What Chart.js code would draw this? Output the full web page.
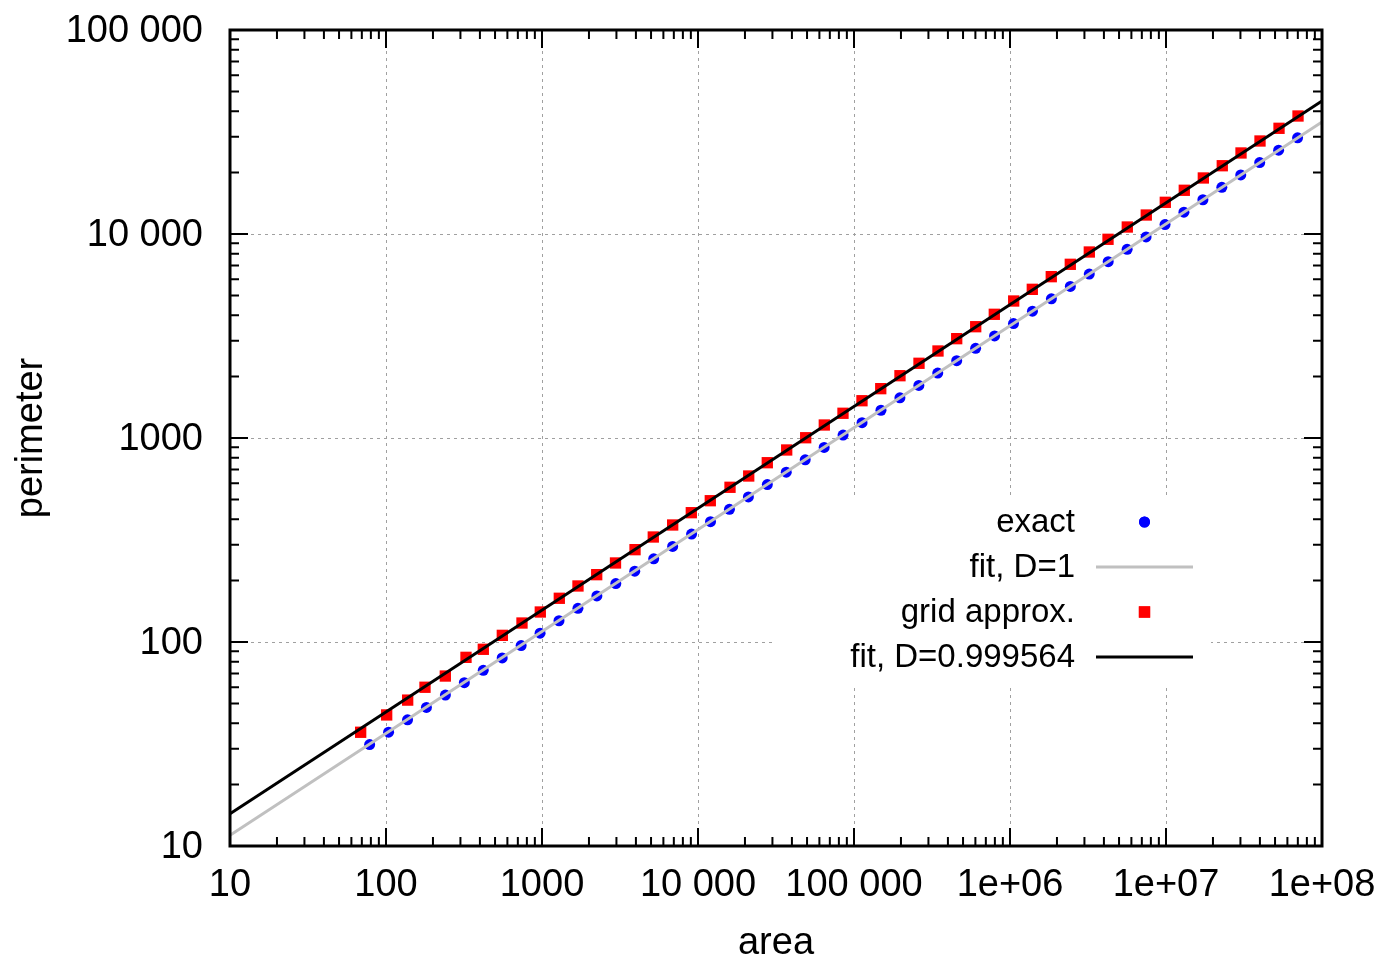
<!DOCTYPE html>
<html>
<head>
<meta charset="utf-8">
<script src="https://cdn.jsdelivr.net/npm/chart.js@4.4.1/dist/chart.umd.min.js"></script>
<style>
  html, body { margin: 0; padding: 0; background: #fff; }
  #wrap { width: 1390px; height: 972px; }
</style>
</head>
<body>
<div id="wrap"><canvas id="chart"></canvas></div>
<script>
// circles: exact area vs perimeter
const blueArea = [78.54, 103.9, 137.4, 181.6, 240.3, 317.8, 420.2, 555.7, 734.9, 971.9,
  1285, 1700, 2248, 2973, 3932, 5200, 6877, 9095, 12030, 15910,
  21040, 27820, 36790, 48660, 64360, 85110, 112600, 148900, 196900, 260400,
  344300, 455400, 602200, 796400, 1053000, 1393000, 1842000, 2436000, 3222000, 4261000,
  5635000, 7453000, 9856000, 13030000, 17240000, 22800000, 30150000, 39870000, 52730000, 69740000];
const bluePerim = [31.42, 36.13, 41.55, 47.78, 54.95, 63.19, 72.66, 83.57, 96.10, 110.5,
  127.1, 146.2, 168.1, 193.3, 222.3, 255.6, 294.0, 338.1, 388.8, 447.1,
  514.2, 591.3, 680.0, 782.0, 899.3, 1034, 1189, 1368, 1573, 1809,
  2080, 2392, 2751, 3164, 3638, 4184, 4811, 5533, 6363, 7317,
  8415, 9677, 11130, 12800, 14720, 16930, 19470, 22390, 25740, 29600];

// grid approximation
const redArea = [68.8, 101.0, 137.7, 177.8, 240.0, 325.7, 420.5, 556.7, 744.3, 975.2,
  1291, 1701, 2242, 2959, 3947, 5169, 6882, 9060, 11990, 16040,
  21140, 27810, 37030, 49010, 64510, 85000, 112500, 148400, 197100, 261000,
  345500, 455300, 602800, 793200, 1056000, 1390000, 1839000, 2435000, 3224000, 4249000,
  5648000, 7475000, 9897000, 13100000, 17350000, 22950000, 30260000, 40050000, 53030000, 70190000];
const redPerim = [36.1, 43.9, 51.9, 60.0, 68.1, 84.1, 92.1, 107.8, 123.9, 140.3,
  163.8, 188.2, 213.8, 244.0, 283.5, 327.1, 374.6, 430.4, 492.7, 573.3,
  651.2, 756.6, 873.5, 1003, 1158, 1322, 1523, 1745, 2020, 2324,
  2670, 3068, 3512, 4040, 4694, 5356, 6177, 7103, 8161, 9419,
  10820, 12390, 14300, 16380, 18820, 21610, 24960, 28570, 32970, 37880];

// fitted lines (ends of the plotted range)
const fitX = [10, 1e8];
const fitD1 = [11.3, 35400];
const fitD0999564 = [14.4, 44900];

const xTickValues = [10, 100, 1000, 1e4, 1e5, 1e6, 1e7, 1e8];
const xTickLabels = ['10', '100', '1000', '10 000', '100 000', '1e+06', '1e+07', '1e+08'];
const yTickValues = [10, 100, 1000, 1e4, 1e5];
const yTickLabels = ['10', '100', '1000', '10 000', '100 000'];

const FONT = "'Liberation Sans', Arial, Helvetica, sans-serif";

const pts = (xs, ys) => xs.map((v, i) => ({ x: v, y: ys[i] }));

// log minor tick positions between majors
function minorVals(majors) {
  const out = [];
  for (let i = 0; i < majors.length - 1; i++)
    for (let k = 2; k <= 9; k++) out.push(majors[i] * k);
  return out;
}

const frame = {
  id: 'frame',
  beforeDatasetsDraw(chart) {
    const { ctx, chartArea: a, scales: { x, y } } = chart;
    ctx.save();
    ctx.strokeStyle = '#a0a0a0';
    ctx.lineWidth = 1;
    ctx.setLineDash([3, 4]);
    xTickValues.forEach(v => {
      const px = Math.round(x.getPixelForValue(v)) + 0.5;
      ctx.beginPath(); ctx.moveTo(px, a.top); ctx.lineTo(px, a.bottom); ctx.stroke();
    });
    yTickValues.forEach(v => {
      const py = Math.round(y.getPixelForValue(v)) + 0.5;
      ctx.beginPath(); ctx.moveTo(a.left, py); ctx.lineTo(a.right, py); ctx.stroke();
    });
    ctx.restore();
  },
  afterDatasetsDraw(chart) {
    const { ctx, chartArea: a, scales: { x, y } } = chart;
    ctx.save();

    // key
    const boxL = a.right - 547, boxR = a.right - 111, boxT = a.top + 469, boxB = a.top + 655;
    ctx.fillStyle = '#fff';
    ctx.fillRect(boxL, boxT, boxR - boxL, boxB - boxT);
    const textR = a.right - 247, sampL = a.right - 226, sampR = a.right - 129;
    const sampC = (sampL + sampR) / 2;
    ctx.font = '33px ' + FONT;
    ctx.textAlign = 'right';
    ctx.textBaseline = 'middle';
    chart.data.datasets.forEach((ds, i) => {
      const yc = boxT + 23 + i * 45;
      ctx.fillStyle = '#000';
      ctx.fillText(ds.label, textR, yc + 1);
      if (ds.showLine) {
        ctx.strokeStyle = ds.borderColor;
        ctx.lineWidth = ds.borderWidth;
        ctx.beginPath(); ctx.moveTo(sampL, yc); ctx.lineTo(sampR, yc); ctx.stroke();
      } else {
        ctx.fillStyle = ds.pointBackgroundColor;
        Chart.helpers.drawPoint(ctx, { pointStyle: ds.pointStyle, radius: ds.pointRadius, borderWidth: 0, rotation: 0 }, sampC, yc);
        ctx.fill();
      }
    });

    // ticks, inward, mirrored
    ctx.strokeStyle = '#000';
    ctx.lineWidth = 2;
    const tick = (vals, len) => {
      vals.forEach(v => {
        const px = x.getPixelForValue(v);
        ctx.beginPath();
        ctx.moveTo(px, a.bottom); ctx.lineTo(px, a.bottom - len);
        ctx.moveTo(px, a.top); ctx.lineTo(px, a.top + len);
        ctx.stroke();
      });
    };
    const tickY = (vals, len) => {
      vals.forEach(v => {
        const py = y.getPixelForValue(v);
        ctx.beginPath();
        ctx.moveTo(a.left, py); ctx.lineTo(a.left + len, py);
        ctx.moveTo(a.right, py); ctx.lineTo(a.right - len, py);
        ctx.stroke();
      });
    };
    tick(xTickValues, 18);
    tick(minorVals(xTickValues), 9);
    tickY(yTickValues, 18);
    tickY(minorVals(yTickValues), 9);

    // border
    ctx.lineWidth = 3;
    ctx.strokeRect(a.left, a.top, a.right - a.left, a.bottom - a.top);
    ctx.restore();
  }
};

const ctx = document.getElementById('chart').getContext('2d');
const chart = new Chart(ctx, {
  type: 'scatter',
  data: {
    datasets: [
      {
        label: 'exact',
        data: pts(blueArea, bluePerim),
        showLine: false,
        pointStyle: 'circle',
        pointRadius: 5.5,
        pointBackgroundColor: '#0000ff',
        pointBorderWidth: 0,
        order: 4
      },
      {
        label: 'fit, D=1',
        data: pts(fitX, fitD1),
        showLine: true,
        borderColor: '#c0c0c0',
        borderWidth: 3,
        pointRadius: 0,
        order: 3
      },
      {
        label: 'grid approx.',
        data: pts(redArea, redPerim),
        showLine: false,
        pointStyle: 'rect',
        pointRadius: 8,
        pointBackgroundColor: '#ff0000',
        pointBorderWidth: 0,
        order: 2
      },
      {
        label: 'fit, D=0.999564',
        data: pts(fitX, fitD0999564),
        showLine: true,
        borderColor: '#000000',
        borderWidth: 3,
        pointRadius: 0,
        order: 1
      }
    ]
  },
  options: {
    responsive: true,
    maintainAspectRatio: false,
    animation: false,
    events: [],
    layout: { padding: { left: 0, top: 30, right: 68, bottom: 0 } },
    plugins: { legend: { display: false }, tooltip: { enabled: false } },
    scales: {
      x: {
        type: 'logarithmic',
        min: 10,
        max: 1e8,
        afterBuildTicks: s => { s.ticks = xTickValues.map(v => ({ value: v })); },
        afterFit: s => { s.height = 126; s.paddingLeft = 0; s.paddingRight = 0; },
        grid: { display: false, drawTicks: false },
        border: { display: false },
        ticks: {
          autoSkip: false,
          maxRotation: 0,
          padding: 17,
          color: '#000',
          font: { family: FONT, size: 38 },
          callback: (v, i) => xTickLabels[i]
        },
        title: {
          display: true,
          text: 'area',
          color: '#000',
          font: { family: FONT, size: 38, lineHeight: 1.2 },
          padding: { top: 0, bottom: 5.7 }
        }
      },
      y: {
        type: 'logarithmic',
        min: 10,
        max: 1e5,
        afterBuildTicks: s => { s.ticks = yTickValues.map(v => ({ value: v })); },
        afterFit: s => { s.width = 230; s.paddingTop = 0; s.paddingBottom = 0; },
        grid: { display: false, drawTicks: false },
        border: { display: false },
        ticks: {
          autoSkip: false,
          padding: 27,
          labelOffset: 2,
          color: '#000',
          font: { family: FONT, size: 38 },
          callback: (v, i) => yTickLabels[i]
        },
        title: {
          display: true,
          text: 'perimeter',
          color: '#000',
          font: { family: FONT, size: 38, lineHeight: 1.2 },
          padding: { top: 8.5, bottom: 0 }
        }
      }
    }
  },
  plugins: [frame]
});
</script>
</body>
</html>
